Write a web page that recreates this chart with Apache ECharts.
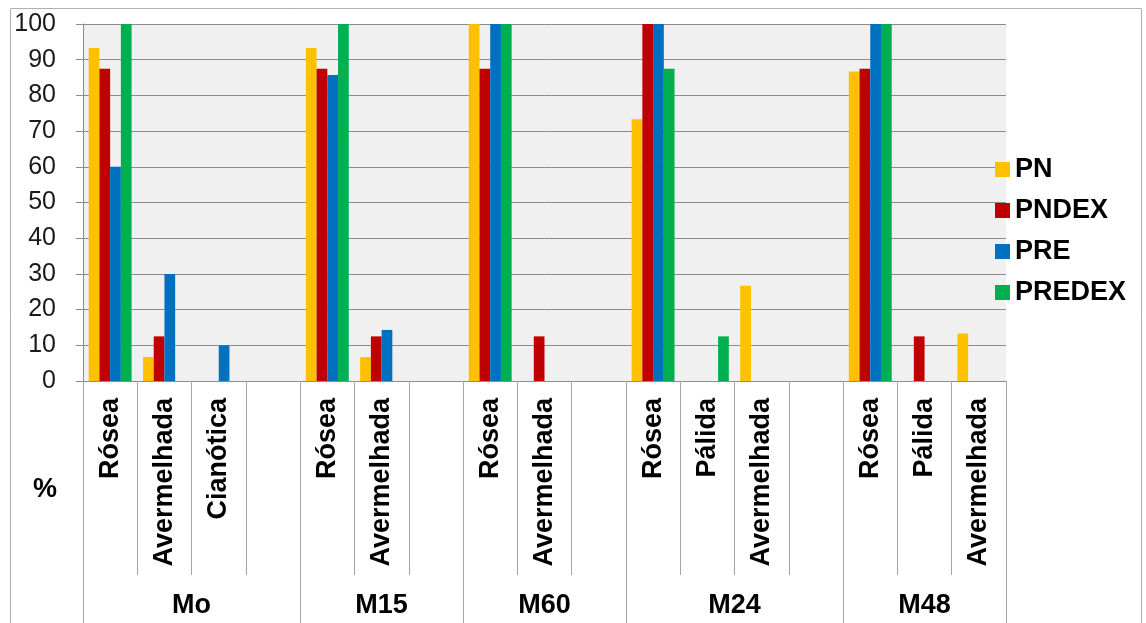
<!DOCTYPE html>
<html>
<head>
<meta charset="utf-8">
<script src="https://cdn.jsdelivr.net/npm/echarts@6/dist/echarts.min.js"></script>
<style>
  html, body { margin: 0; padding: 0; background: #ffffff; }
  #chart { width: 1146px; height: 623px; }
</style>
</head>
<body>
<div id="chart"></div>
<script>
// Groups and how many category slots each one occupies (includes spacer slots)
const groups = ['Mo', 'M15', 'M60', 'M24', 'M48'];
const groupSlots = [4, 3, 3, 4, 3];

// Sub-category labels, one per slot ('' = spacer slot)
const categories = [
  'Rósea', 'Avermelhada', 'Cianótica', '',
  'Rósea', 'Avermelhada', '',
  'Rósea', 'Avermelhada', '',
  'Rósea', 'Pálida', 'Avermelhada', '',
  'Rósea', 'Pálida', 'Avermelhada'
];

// Percentages per series
const pn     = [93.3, 6.7, 0, 0,   93.3, 6.7, 0,    100, 0, 0,     73.3, 0, 26.7, 0,   86.7, 0, 13.3];
const pndex  = [87.5, 12.5, 0, 0,  87.5, 12.5, 0,   87.5, 12.5, 0, 100, 0, 0, 0,       87.5, 12.5, 0];
const pre    = [60, 30, 10, 0,     85.7, 14.3, 0,   100, 0, 0,     100, 0, 0, 0,       100, 0, 0];
const predex = [100, 0, 0, 0,      100, 0, 0,       100, 0, 0,     87.5, 12.5, 0, 0,   100, 0, 0];

const yTicks = { min: 0, max: 100, interval: 10 };
const unitLabel = '%';

const seriesNames = ['PN', 'PNDEX', 'PRE', 'PREDEX'];
const seriesColors = ['#FFC000', '#C00000', '#0070C0', '#00B050'];
const seriesValues = [pn, pndex, pre, predex];

// Group axis: half-slot positions (0 .. 2*slots), group names at the centres,
// long separator ticks at group boundaries
const totalSlots = groupSlots.reduce((a, b) => a + b, 0);
const groupAxisData = new Array(totalSlots * 2 + 1).fill('');
const boundaries = new Set([0]);
let start = 0;
groups.forEach((g, i) => {
  const end = start + groupSlots[i];
  groupAxisData[start + end] = g;
  boundaries.add(end * 2);
  start = end;
});

const FONT = "'Liberation Sans', Arial, sans-serif";
const lineGray = '#8c8c8c';
const sepGray = '#a6a6a6';

const chart = echarts.init(document.getElementById('chart'), null, { renderer: 'canvas' });

chart.setOption({
  animation: false,
  backgroundColor: '#ffffff',
  textStyle: { fontFamily: FONT },
  title: {
    text: unitLabel,
    left: 33, top: 476, padding: 0,
    textStyle: { fontFamily: FONT, fontSize: 27, fontWeight: 'bold', color: '#000' }
  },
  grid: {
    left: 83, top: 24, right: 140, bottom: 242,
    show: true, backgroundColor: '#f0f0f0', borderWidth: 0
  },
  legend: {
    orient: 'vertical',
    left: 995, top: 156,
    padding: 0,
    itemWidth: 15, itemHeight: 15,
    itemGap: 14,
    icon: 'rect',
    data: seriesNames,
    textStyle: { fontFamily: FONT, fontSize: 27, fontWeight: 'bold', color: '#000', lineHeight: 27 }
  },
  xAxis: [
    {
      type: 'category',
      data: categories,
      position: 'bottom',
      axisLine: { show: true, lineStyle: { color: lineGray, width: 1 } },
      axisTick: { show: true, interval: 0, length: 194, lineStyle: { color: sepGray } },
      axisLabel: {
        interval: 0, rotate: 90, margin: 17,
        fontFamily: FONT, fontSize: 27, fontWeight: 'bold', color: '#000'
      },
      splitLine: { show: false }
    },
    {
      type: 'category',
      data: groupAxisData,
      boundaryGap: false,
      position: 'bottom',
      axisLine: { show: false },
      axisTick: {
        show: true, length: 245,
        interval: (idx) => boundaries.has(idx),
        lineStyle: { color: sepGray }
      },
      axisLabel: {
        interval: 0, margin: 211,
        fontFamily: FONT, fontSize: 27, fontWeight: 'bold', color: '#000'
      },
      splitLine: { show: false }
    }
  ],
  yAxis: {
    type: 'value',
    min: yTicks.min, max: yTicks.max, interval: yTicks.interval,
    axisLine: { show: true, lineStyle: { color: lineGray } },
    axisTick: { show: true, length: 7, lineStyle: { color: lineGray } },
    axisLabel: { margin: 27, fontFamily: FONT, fontSize: 25, color: '#1a1a1a' },
    splitLine: { show: true, lineStyle: { color: lineGray, width: 1 } }
  },
  series: seriesNames.map((name, i) => ({
    name,
    type: 'bar',
    xAxisIndex: 0,
    data: seriesValues[i],
    barGap: '0%',
    barCategoryGap: '21%',
    itemStyle: { color: seriesColors[i] }
  })),
  graphic: [
    {
      type: 'rect',
      shape: { x: 10.5, y: 8.5, width: 1131, height: 640 },
      style: { fill: 'none', stroke: '#b0b0b0', lineWidth: 1 },
      silent: true
    }
  ]
});
</script>
</body>
</html>
